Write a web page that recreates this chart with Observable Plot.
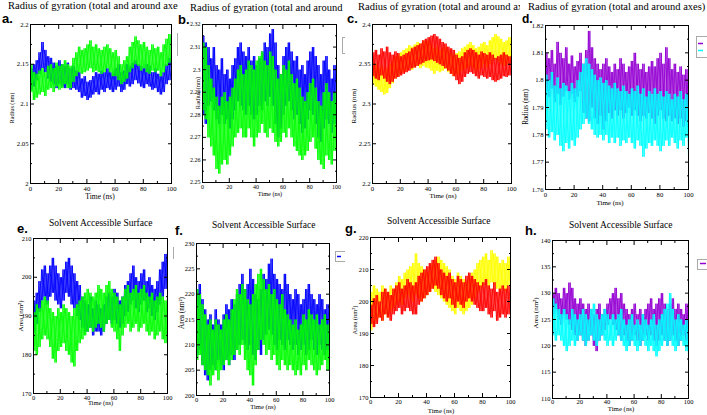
<!DOCTYPE html>
<html><head><meta charset="utf-8">
<script src="https://cdn.jsdelivr.net/npm/d3@7"></script>
<script src="https://cdn.jsdelivr.net/npm/@observablehq/plot@0.6"></script>
<style>
body{margin:0;background:#fff;}
#fig{position:relative;width:707px;height:415px;overflow:hidden;background:#fff;}
.cell{position:absolute;overflow:hidden;}
.cell svg{position:absolute;}
</style></head>
<body><div id="fig"></div>
<script>
// ---- sampling times (ns) ----
const timeNs = [0,2,4,6,8,10,12,14,16,18,20,22,24,26,28,30,32,34,36,38,40,42,44,46,48,50,52,54,56,58,60,62,64,66,68,70,72,74,76,78,80,82,84,86,88,90,92,94,96,98,100];

// ---- a. Radius of gyration ----
const aBlueHi = [2.145,2.15,2.155,2.165,2.178,2.168,2.16,2.158,2.152,2.148,2.155,2.15,2.148,2.152,2.145,2.148,2.142,2.14,2.132,2.135,2.128,2.13,2.135,2.14,2.138,2.142,2.14,2.145,2.14,2.138,2.145,2.15,2.14,2.142,2.15,2.148,2.152,2.155,2.15,2.148,2.145,2.15,2.148,2.14,2.145,2.138,2.135,2.14,2.15,2.158,2.155];
const aBlueLo = [2.118,2.122,2.13,2.138,2.145,2.14,2.132,2.128,2.125,2.12,2.125,2.122,2.12,2.125,2.118,2.12,2.118,2.115,2.108,2.11,2.105,2.108,2.112,2.115,2.112,2.118,2.115,2.12,2.118,2.115,2.118,2.122,2.115,2.118,2.125,2.122,2.125,2.13,2.126,2.122,2.12,2.125,2.122,2.118,2.12,2.115,2.112,2.115,2.125,2.13,2.14];
const aGreenHi = [2.15,2.14,2.138,2.142,2.145,2.14,2.148,2.15,2.145,2.152,2.148,2.15,2.155,2.15,2.148,2.158,2.165,2.172,2.168,2.17,2.175,2.18,2.172,2.175,2.17,2.168,2.172,2.175,2.17,2.165,2.168,2.16,2.15,2.155,2.16,2.172,2.178,2.185,2.18,2.175,2.178,2.172,2.168,2.175,2.17,2.172,2.165,2.175,2.182,2.188,2.175];
const aGreenLo = [2.115,2.105,2.108,2.112,2.115,2.11,2.118,2.12,2.115,2.122,2.118,2.12,2.125,2.12,2.12,2.128,2.135,2.14,2.138,2.14,2.142,2.145,2.14,2.142,2.14,2.138,2.14,2.145,2.14,2.135,2.135,2.13,2.125,2.128,2.132,2.14,2.145,2.15,2.148,2.142,2.145,2.14,2.138,2.142,2.14,2.142,2.135,2.14,2.148,2.152,2.15];

// ---- b. Radius of gyration ----
const bBlueHi = [2.315,2.312,2.31,2.305,2.31,2.302,2.3,2.305,2.298,2.3,2.296,2.302,2.305,2.31,2.312,2.308,2.306,2.31,2.304,2.306,2.302,2.305,2.308,2.312,2.31,2.316,2.318,2.312,2.302,2.298,2.306,2.31,2.312,2.308,2.304,2.306,2.3,2.302,2.298,2.304,2.308,2.31,2.306,2.302,2.298,2.304,2.306,2.3,2.296,2.302,2.298];
const bBlueLo = [2.28,2.276,2.284,2.286,2.282,2.278,2.276,2.28,2.276,2.278,2.274,2.278,2.282,2.286,2.284,2.282,2.28,2.284,2.28,2.278,2.28,2.284,2.282,2.286,2.284,2.288,2.284,2.276,2.27,2.274,2.28,2.284,2.286,2.282,2.278,2.28,2.276,2.272,2.274,2.278,2.282,2.28,2.276,2.27,2.268,2.274,2.278,2.276,2.272,2.276,2.28];
const bGreenHi = [2.312,2.31,2.302,2.296,2.292,2.288,2.284,2.288,2.29,2.286,2.288,2.292,2.296,2.3,2.302,2.298,2.3,2.304,2.302,2.3,2.304,2.306,2.308,2.304,2.302,2.308,2.306,2.3,2.296,2.298,2.302,2.3,2.304,2.298,2.294,2.296,2.292,2.288,2.286,2.29,2.294,2.296,2.292,2.286,2.284,2.29,2.294,2.29,2.286,2.29,2.292];
const bGreenLo = [2.282,2.278,2.27,2.266,2.262,2.256,2.254,2.258,2.26,2.258,2.262,2.266,2.27,2.272,2.274,2.27,2.27,2.274,2.27,2.266,2.27,2.272,2.276,2.272,2.27,2.274,2.272,2.268,2.266,2.268,2.272,2.27,2.274,2.27,2.266,2.264,2.262,2.26,2.262,2.264,2.268,2.27,2.265,2.26,2.258,2.256,2.262,2.26,2.258,2.264,2.27];

// ---- c. Radius of gyration ----
const cYellowHi = [2.352,2.35,2.345,2.348,2.342,2.345,2.35,2.355,2.36,2.362,2.365,2.368,2.37,2.374,2.372,2.375,2.378,2.376,2.38,2.378,2.38,2.375,2.37,2.372,2.368,2.37,2.372,2.368,2.365,2.362,2.364,2.366,2.37,2.372,2.375,2.378,2.374,2.37,2.372,2.376,2.378,2.374,2.38,2.384,2.388,2.385,2.382,2.378,2.38,2.384,2.38];
const cYellowLo = [2.325,2.322,2.318,2.315,2.312,2.314,2.32,2.326,2.332,2.335,2.338,2.34,2.342,2.345,2.343,2.346,2.348,2.345,2.348,2.346,2.345,2.342,2.338,2.342,2.34,2.342,2.344,2.34,2.338,2.335,2.336,2.338,2.342,2.344,2.346,2.348,2.345,2.342,2.344,2.346,2.35,2.346,2.35,2.354,2.356,2.354,2.35,2.348,2.35,2.354,2.356];
const cRedHi = [2.365,2.368,2.362,2.37,2.366,2.372,2.365,2.362,2.366,2.364,2.36,2.362,2.364,2.366,2.37,2.372,2.374,2.376,2.38,2.382,2.384,2.386,2.388,2.385,2.382,2.378,2.376,2.372,2.37,2.368,2.362,2.358,2.36,2.365,2.368,2.37,2.368,2.365,2.362,2.366,2.364,2.362,2.365,2.362,2.358,2.36,2.362,2.365,2.362,2.36,2.36];
const cRedLo = [2.335,2.332,2.33,2.336,2.332,2.328,2.325,2.328,2.332,2.334,2.336,2.338,2.34,2.342,2.345,2.346,2.348,2.35,2.352,2.354,2.355,2.356,2.354,2.352,2.35,2.348,2.345,2.342,2.338,2.335,2.33,2.325,2.328,2.334,2.338,2.34,2.338,2.335,2.332,2.336,2.334,2.332,2.334,2.33,2.328,2.33,2.332,2.335,2.334,2.336,2.338];

// ---- d. Radius of gyration ----
const dPurpleHi = [1.81,1.808,1.811,1.806,1.814,1.81,1.808,1.812,1.806,1.809,1.805,1.807,1.81,1.806,1.811,1.818,1.812,1.808,1.806,1.804,1.806,1.808,1.805,1.803,1.806,1.804,1.808,1.806,1.803,1.805,1.807,1.81,1.806,1.804,1.806,1.803,1.805,1.807,1.805,1.808,1.81,1.806,1.812,1.808,1.804,1.806,1.803,1.805,1.802,1.804,1.801];
const dPurpleLo = [1.796,1.794,1.797,1.792,1.795,1.791,1.794,1.796,1.793,1.795,1.792,1.794,1.796,1.788,1.786,1.785,1.79,1.786,1.784,1.787,1.782,1.785,1.788,1.786,1.789,1.787,1.789,1.786,1.788,1.79,1.787,1.789,1.787,1.785,1.787,1.786,1.788,1.786,1.784,1.787,1.789,1.786,1.785,1.787,1.785,1.786,1.784,1.786,1.783,1.785,1.784];
const dCyanHi = [1.802,1.8,1.803,1.798,1.801,1.797,1.799,1.798,1.796,1.799,1.797,1.8,1.803,1.806,1.808,1.806,1.804,1.802,1.8,1.801,1.799,1.8,1.798,1.797,1.799,1.797,1.796,1.798,1.796,1.795,1.797,1.796,1.798,1.795,1.797,1.794,1.796,1.795,1.797,1.795,1.796,1.794,1.796,1.795,1.793,1.795,1.794,1.796,1.793,1.795,1.792];
const dCyanLo = [1.782,1.779,1.781,1.778,1.78,1.776,1.774,1.777,1.775,1.778,1.776,1.779,1.782,1.784,1.786,1.784,1.782,1.78,1.779,1.78,1.778,1.78,1.777,1.779,1.777,1.779,1.776,1.778,1.777,1.779,1.777,1.775,1.778,1.776,1.772,1.775,1.777,1.776,1.778,1.776,1.774,1.776,1.778,1.776,1.779,1.777,1.775,1.778,1.776,1.779,1.772];

// ---- e. Solvent accessible surface ----
const eBlueHi = [194,196,199,202,203,201,203,205,203,201,200,202,204,205,203,201,199,198,195,194,193,195,192,194,193,192,193,195,196,195,197,196,194,195,198,199,201,203,200,199,201,202,199,200,198,197,199,202,204,206,207];
const eBlueLo = [186,188,191,194,195,193,195,196,194,193,192,194,196,195,193,192,190,189,187,186,186,187,185,186,186,185,186,188,189,188,189,188,187,188,190,191,193,194,192,191,193,194,191,192,190,189,191,193,195,197,198];
const eGreenHi = [191,193,192,194,195,194,192,191,190,192,191,193,192,191,190,192,193,194,195,196,197,196,195,196,198,197,196,198,199,197,196,195,193,195,197,198,196,197,198,196,197,198,196,195,196,194,195,196,195,194,196];
const eGreenLo = [181,180,182,184,185,184,182,179,178,181,182,183,181,180,178,177,181,183,184,185,186,187,186,187,188,187,186,188,189,187,186,184,181,185,187,188,186,187,188,186,187,188,186,185,186,184,185,186,184,183,185];

// ---- f. Solvent accessible surface ----
const fBlueHi = [221,222,219,217,215,216,214,217,215,214,216,218,217,219,218,220,222,224,221,222,225,223,220,219,221,224,223,226,227,224,223,222,221,224,222,220,219,221,220,218,219,221,222,220,219,218,220,219,217,218,217];
const fBlueLo = [208,209,206,204,203,205,206,205,207,206,205,207,206,208,207,209,210,211,210,209,210,208,207,209,208,211,212,213,212,210,209,211,210,209,211,210,209,210,208,209,210,208,209,211,209,208,210,209,208,209,210];
const fGreenHi = [221,220,218,216,214,215,213,215,214,213,215,216,215,217,219,221,220,222,221,219,218,220,222,224,225,223,221,222,220,221,219,218,220,217,216,215,214,215,213,214,216,215,217,216,215,216,214,215,216,214,215];
const fGreenLo = [207,208,206,205,204,202,204,205,203,205,206,207,206,207,208,209,208,210,207,205,204,202,206,209,211,210,208,209,207,208,206,205,207,206,205,206,205,204,205,204,206,205,207,206,205,204,205,206,207,205,206];

// ---- g. Solvent accessible surface ----
const gYellowHi = [203,205,204,203,205,204,203,205,204,206,208,207,209,210,211,212,215,212,211,210,209,211,212,213,214,213,212,211,210,208,207,209,208,207,206,208,209,210,212,213,214,215,213,216,215,214,212,213,212,214,215];
const gYellowLo = [191,193,194,195,194,196,195,197,198,199,200,199,201,202,201,200,202,201,200,201,202,203,204,203,202,201,200,199,198,197,196,198,197,196,197,198,199,201,203,204,205,206,204,206,205,204,203,204,203,205,206];
const gRedHi = [199,201,202,200,203,204,203,202,204,205,206,204,205,207,206,205,206,208,209,210,211,212,213,214,212,210,209,208,209,207,206,208,207,206,208,209,208,207,206,205,206,207,205,204,206,203,204,205,204,205,204];
const gRedLo = [193,192,193,195,194,196,195,194,196,197,198,196,197,198,197,196,196,199,200,201,202,203,204,205,204,202,201,200,201,199,198,200,199,198,200,201,200,199,198,197,197,198,196,195,197,194,195,196,195,196,196];

// ---- h. Solvent accessible surface ----
const hPurpleHi = [130,131,130,129,131,130,132,131,129,128,129,128,127,128,127,126,127,128,126,127,128,129,130,131,129,130,128,127,126,127,128,126,127,126,127,128,129,127,128,129,130,128,127,128,129,127,128,127,126,128,127];
const hPurpleLo = [126,127,125,124,126,125,124,123,122,121,122,121,120,121,122,120,119,121,122,123,124,125,124,123,122,121,122,121,120,121,122,121,120,121,122,121,122,121,120,121,122,121,120,121,122,121,120,121,122,121,120];
const hCyanHi = [129,128,127,126,127,126,125,127,126,125,126,127,126,125,127,128,126,125,126,127,126,125,126,125,126,127,125,124,125,126,124,125,124,126,125,124,125,126,124,125,126,127,128,130,127,125,126,125,124,125,123];
const hCyanLo = [122,121,122,121,120,119,120,121,120,121,122,121,120,121,122,121,120,121,122,121,120,121,120,121,122,121,120,119,120,121,120,119,120,121,120,119,120,119,118,119,120,121,120,121,120,119,120,121,120,119,118];

// ---- axis ticks ----
const xTicks = [0,20,40,60,80,100];
const yTicksA = [2,2.05,2.1,2.15,2.2];
const yTicksB = [2.25,2.26,2.27,2.28,2.29,2.3,2.31,2.32];
const yTicksC = [2.2,2.25,2.3,2.35,2.4];
const yTicksD = [1.76,1.77,1.78,1.79,1.8,1.81,1.82];
const yTicksE = [170,180,190,200,210];
const yTicksF = [200,205,210,215,220,225,230];
const yTicksG = [170,180,190,200,210,220];
const yTicksH = [110,115,120,125,130,135,140];

const titleRg = "Radius of gyration (total and around axes)";
const titleSas = "Solvent Accessible Surface";
const yLabRg = "Radius (nm)";
const yLabSas = "Area (nm²)";
const xLab = "Time (ns)";

const BLUE="#0000ff", GREEN="#00ff00", RED="#ff0000", YELLOW="#ffff00", PURPLE="#9400d3", CYAN="#00ffff";

const panels = [
 {letter:"a.", lx:2, ly:23, ls:13, cell:[0,0,178,210], frame:[30,24,171,183], yTicks:yTicksA, tf:6.7, xg:3,
  title:titleRg, tx:8, ty:9, ts:10.5, ylab:yLabRg, ys:6.2, yx:11.5, yy:108, xx:100, xy:198.5, xs:7.6,
  series:[[aBlueLo,aBlueHi,BLUE],[aGreenLo,aGreenHi,GREEN]], legend:{r:[177,33,20,22]}},
 {letter:"b.", lx:178, ly:24, ls:13, cell:[178,0,167,210], frame:[202,24,336,182], yTicks:yTicksB, tf:6,
  xg:2, title:titleRg, tx:190, ty:10.5, ts:10.5, ylab:yLabRg, ys:6.5, yx:198, yy:93, xx:270, xy:195.5, xs:6.3,
  series:[[bBlueLo,bBlueHi,BLUE],[bGreenLo,bGreenHi,GREEN]], legend:{r:[342,37,20,16]}},
 {letter:"c.", lx:347, ly:23, ls:13, cell:[345,0,175,210], frame:[372,24,511,183], yTicks:yTicksC, tf:6.7, xg:3,
  title:titleRg, tx:358, ty:10, ts:10.5, ylab:yLabRg, ys:7, yx:354, yy:106, xx:443, xy:198, xs:7,
  series:[[cYellowLo,cYellowHi,YELLOW],[cRedLo,cRedHi,RED]]},
 {letter:"d.", lx:522, ly:22.5, ls:12, cell:[520,0,187,210], frame:[545,25,688,189], yTicks:yTicksD, tf:6.7, xg:2.5,
  title:titleRg, tx:528, ty:10, ts:10.5, ylab:yLabRg, ys:7.2, yx:525.5, yy:107, xx:610, xy:205, xs:7,
  series:[[dPurpleLo,dPurpleHi,PURPLE],[dCyanLo,dCyanHi,CYAN]],
  legend:{r:[696,36,20,21], lines:[[43,698,703,PURPLE],[50,698,703,CYAN]]}},
 {letter:"e.", lx:17, ly:233, ls:13, cell:[0,210,174,205], frame:[33,238,167,393], yTicks:yTicksE, tf:6.5, xg:1.5,
  title:titleSas, tx:49, ty:226.3, ts:9.5, ylab:yLabSas, ys:7, yx:20.5, yy:316, xx:100.5, xy:405, xs:6.5,
  series:[[eBlueLo,eBlueHi,BLUE],[eGreenLo,eGreenHi,GREEN]], legend:{r:[173,247,20,11]}},
 {letter:"f.", lx:175, ly:235, ls:13, cell:[174,210,171,205], frame:[196,243,329,395], yTicks:yTicksF, tf:6.5, xg:1.5,
  title:titleSas, tx:212, ty:228, ts:9.5, ylab:yLabSas, ys:7.2, yx:181.5, yy:313, xx:263, xy:408.5, xs:6.6,
  series:[[fBlueLo,fBlueHi,BLUE],[fGreenLo,fGreenHi,GREEN]],
  legend:{r:[335,251,15,10], lines:[[256,337,341,BLUE]]}},
 {letter:"g.", lx:345, ly:233, ls:13, cell:[345,210,175,205], frame:[370,237,510,397], yTicks:yTicksG, tf:6.5, xg:2,
  title:titleSas, tx:387, ty:224, ts:9.5, ylab:yLabSas, ys:6.5, yx:354.5, yy:320, xx:441, xy:412.5, xs:6.8,
  series:[[gYellowLo,gYellowHi,YELLOW],[gRedLo,gRedHi,RED]]},
 {letter:"h.", lx:525, ly:235, ls:13, cell:[520,210,187,205], frame:[552,240,688,398], yTicks:yTicksH, tf:6.5, xg:1.3,
  title:titleSas, tx:569, ty:228, ts:9.5, ylab:yLabSas, ys:7, yx:535.5, yy:313, xx:621, xy:410.5, xs:6.8,
  series:[[hPurpleLo,hPurpleHi,PURPLE],[hCyanLo,hCyanHi,CYAN]],
  legend:{r:[697,259,15,10], lines:[[263,700,706,PURPLE]]}}
];

function zig(lo, hi, phase) {
  const out = [];
  timeNs.forEach((t, i) => {
    out.push({t, v: phase ? hi[i] : lo[i]});
    out.push({t: Math.min(t + 1, 100), v: phase ? lo[i] : hi[i]});
  });
  return out;
}
function mids(arr) { const m = []; for (let i = 0; i < arr.length - 1; i++) m.push((arr[i] + arr[i+1]) / 2); return m; }

const fig = document.getElementById("fig");
const NS = "http://www.w3.org/2000/svg";

panels.forEach(p => {
  const [cx, cy, cw, ch] = p.cell;
  const [L, T, R, B] = p.frame;
  const cell = document.createElement("div");
  cell.className = "cell";
  Object.assign(cell.style, {left: cx+"px", top: cy+"px", width: cw+"px", height: ch+"px"});
  fig.appendChild(cell);

  const ml = 26, mr = 4, mt = 4, mb = 14;
  const yt = p.yTicks;
  const yMinor = mids(yt), xMinor = mids(xTicks);
  const dom = [yt[0], yt[yt.length-1]];
  const lineMarks = [];
  p.series.forEach(([lo, hi, color]) => {
    lineMarks.push(Plot.line(zig(lo, hi, false), {x: "t", y: "v", stroke: color, strokeWidth: 0.9}));
    lineMarks.push(Plot.line(zig(lo, hi, true), {x: "t", y: "v", stroke: color, strokeWidth: 0.9}));
  });
  const blank = () => "";
  const chart = Plot.plot({
    width: (R - L) + ml + mr, height: (B - T) + mt + mb,
    marginLeft: ml, marginRight: mr, marginTop: mt, marginBottom: mb,
    x: {domain: [0, 100]},
    y: {domain: dom},
    style: {fontFamily: "'Liberation Serif', serif", fontSize: p.tf + "px", color: "#000", background: "transparent", overflow: "visible"},
    marks: [
      ...lineMarks,
      Plot.frame({stroke: "#000", strokeWidth: 1}),
      Plot.axisX(xTicks, {anchor: "bottom", tickSize: -4, tickPadding: 4 + p.xg, tickFormat: d => String(d), label: null}),
      Plot.axisX(xMinor, {anchor: "bottom", tickSize: -2, tickFormat: blank, label: null}),
      Plot.axisX(xTicks, {anchor: "top", tickSize: -4, tickFormat: blank, label: null}),
      Plot.axisX(xMinor, {anchor: "top", tickSize: -2, tickFormat: blank, label: null}),
      Plot.axisY(yt, {anchor: "left", tickSize: -4, tickPadding: 6, tickFormat: d => String(d), label: null}),
      Plot.axisY(yMinor, {anchor: "left", tickSize: -2, tickFormat: blank, label: null}),
      Plot.axisY(yt, {anchor: "right", tickSize: -4, tickFormat: blank, label: null}),
      Plot.axisY(yMinor, {anchor: "right", tickSize: -2, tickFormat: blank, label: null})
    ]
  });
  chart.style.left = (L - ml - cx) + "px";
  chart.style.top = (T - mt - cy) + "px";
  cell.appendChild(chart);

  // annotation layer (titles, panel letter, axis labels, legend box)
  const svg = document.createElementNS(NS, "svg");
  svg.setAttribute("width", cw); svg.setAttribute("height", ch);
  svg.style.left = "0px"; svg.style.top = "0px";
  const add = (tag, attrs, text) => {
    const el = document.createElementNS(NS, tag);
    for (const k in attrs) el.setAttribute(k, attrs[k]);
    if (text != null) el.textContent = text;
    svg.appendChild(el); return el;
  };
  if (p.legend) {
    const [rx, ry, rw, rh] = p.legend.r;
    add("rect", {x: rx - cx + 0.5, y: ry - cy + 0.5, width: rw, height: rh, fill: "#fff", stroke: "#aaa", "stroke-width": 1});
    (p.legend.lines || []).forEach(([ly, x1, x2, c]) =>
      add("line", {x1: x1 - cx, x2: x2 - cx, y1: ly - cy + 0.5, y2: ly - cy + 0.5, stroke: c, "stroke-width": 1.5}));
  }
  add("text", {x: p.tx - cx, y: p.ty - cy, "font-family": "'Liberation Serif', serif", "font-size": p.ts, fill: "#000"}, p.title);
  add("text", {x: p.lx - cx, y: p.ly - cy, "font-family": "'Liberation Sans', Arial, sans-serif", "font-size": p.ls, "font-weight": "bold", fill: "#000"}, p.letter);
  add("text", {x: p.xx - cx, y: p.xy - cy, "text-anchor": "middle", "font-family": "'Liberation Serif', serif", "font-size": p.xs, fill: "#000"}, xLab);
  add("text", {x: 0, y: 0, "text-anchor": "middle", dy: "0.35em", transform: `translate(${p.yx - cx},${p.yy - cy}) rotate(-90)`, "font-family": "'Liberation Serif', serif", "font-size": p.ys, fill: "#000"}, p.ylab);
  cell.appendChild(svg);
});
</script>
</body></html>
